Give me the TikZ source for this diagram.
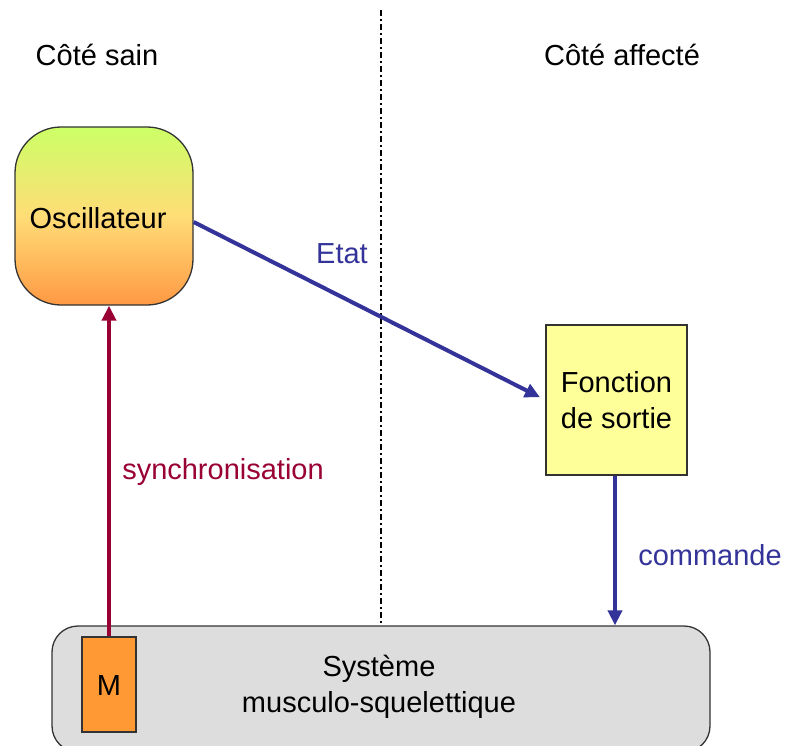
\documentclass[tikz,border=0pt]{standalone}
\usepackage{fontspec}
\setmainfont{Liberation Sans}
\usetikzlibrary{arrows.meta}
\definecolor{arrblue}{HTML}{333399}
\definecolor{arrred}{HTML}{990033}
\definecolor{fyellow}{HTML}{FFFF99}
\definecolor{morange}{HTML}{FF9933}
\definecolor{sgray}{HTML}{DDDDDD}
\definecolor{gtop}{HTML}{CCFF66}
\definecolor{gmid}{HTML}{FFDD77}
\definecolor{gbot}{HTML}{FF9944}
\tikzset{
  txt/.style={font=\fontsize{29}{34}\selectfont, align=center, inner sep=0pt},
  flowarrow/.style={line width=4pt, -{Triangle[length=15pt,width=14pt]}},
  boxline/.style={draw=black!80, line width=1.3pt}
}
\begin{document}
\begin{tikzpicture}[x=1pt,y=-1pt]
\useasboundingbox (0,0) rectangle (785,745);
\clip (0,0) rectangle (785,745);
% separator
\coordinate (sepTop) at (381,10);
% boxes
\node[boxline, rounded corners=46pt, minimum width=178pt, minimum height=178pt,
      top color=gtop, bottom color=gbot, middle color=gmid, inner sep=0pt] (osc) at (104,216) {};
\node[txt] (osclabel) at (98,218) {Oscillateur};
\node[boxline, fill=fyellow, minimum width=141pt, minimum height=150pt, inner sep=0pt] (fct) at (616.5,400) {};
\node[txt] (fctlabel) at (616.5,400) {Fonction\\[2pt]de sortie};
\node[boxline, fill=sgray, rounded corners=26pt, minimum width=658pt, minimum height=126pt, inner sep=0pt] (sys) at (381,689) {};
\node[txt] (syslabel) at (379,687) {Système\\[2pt]musculo-squelettique};
\node[boxline, fill=morange, minimum width=54pt, minimum height=95pt, inner sep=0pt] (M) at (109,684.5) {};
\node[txt] (Mlabel) at (109,686) {M};
\coordinate (sepBot) at (sys.north -| sepTop);
\draw[line width=1.5pt, dash pattern=on 6pt off 3pt on 2pt off 3pt] (sepTop) -- (sepBot);
% headers
\node[txt] (sain) at (97,55) {Côté sain};
\node[txt] (aff) at (622,55) {Côté affecté};
% arrows
\draw[flowarrow, draw=arrblue, fill=arrblue, shorten >=6pt] ([yshift=-6pt]osc.east) -- (fct.west);
\node[txt, text=arrblue] (etat) at (342,254) {Etat};
\draw[flowarrow, draw=arrblue, fill=arrblue] ([xshift=-1.5pt]fct.south) -- ([xshift=-1.5pt]fct.south |- sys.north);
\node[txt, text=arrblue] (cmd) at (710,555) {commande};
\draw[flowarrow, draw=arrred, fill=arrred] (M.north) -- (M.north |- osc.south);
\node[txt, text=arrred] (sync) at (223,472) {synchronisation};
\end{tikzpicture}
\end{document}
